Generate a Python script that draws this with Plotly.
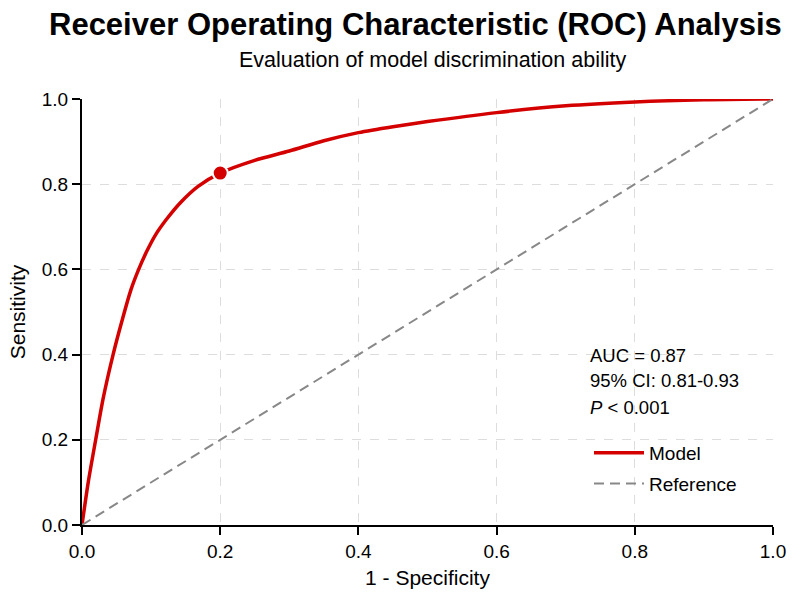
import plotly.graph_objects as go

fpr = [0.0, 0.009, 0.0198, 0.031, 0.045, 0.058, 0.071, 0.082, 0.093, 0.106, 0.122, 0.142, 0.168, 0.2, 0.25, 0.3, 0.35, 0.4, 0.45, 0.5, 0.6, 0.7, 0.8, 0.9, 1.0]
tpr = [0.0, 0.1, 0.2, 0.3, 0.4, 0.48, 0.553, 0.6, 0.64, 0.68, 0.717, 0.756, 0.795, 0.826, 0.856, 0.878, 0.902, 0.921, 0.935, 0.947, 0.968, 0.984, 0.993, 0.998, 1.0]
ref_x = [0.0, 1.0]
ref_y = [0.0, 1.0]
opt_x = [0.2]
opt_y = [0.826]
tick_vals = [0.0, 0.2, 0.4, 0.6, 0.8, 1.0]
tick_text = ["0.0", "0.2", "0.4", "0.6", "0.8", "1.0"]
stats_lines = ["AUC = 0.87", "95% CI: 0.81-0.93", "<i>P</i> < 0.001"]
title_text = "Receiver Operating Characteristic (ROC) Analysis"
subtitle_text = "Evaluation of model discrimination ability"

RED = "#d40000"
FONT = "Liberation Sans, Arial, sans-serif"

fig = go.Figure()
fig.add_trace(go.Scatter(x=fpr, y=tpr, mode="lines", name="Model", legendgroup="a",
                         line=dict(color=RED, width=3.5, shape="spline", smoothing=0.8)))
fig.add_trace(go.Scatter(x=ref_x, y=ref_y, mode="lines", name="Reference", legendgroup="b",
                         line=dict(color="#888888", width=2, dash="10px,6px")))
fig.add_trace(go.Scatter(x=opt_x, y=opt_y, mode="markers", showlegend=False,
                         marker=dict(color=RED, size=15, line=dict(color="white", width=2))))

for t, py in zip(stats_lines, [355, 380, 407]):
    fig.add_annotation(x=(588 - 82) / 691, y=(525 - py) / 426, xref="paper", yref="paper", text=t,
                       showarrow=False, xanchor="left", yanchor="middle",
                       font=dict(family=FONT, size=18.5, color="black"))

fig.add_annotation(x=(415 - 82) / 691, y=(525 - 24) / 426, xref="paper", yref="paper",
                   text="<b>" + title_text + "</b>", showarrow=False,
                   xanchor="center", yanchor="middle",
                   font=dict(family=FONT, size=31, color="black"))
fig.add_annotation(x=(432 - 82) / 691, y=(525 - 60) / 426, xref="paper", yref="paper",
                   text=subtitle_text, showarrow=False,
                   xanchor="center", yanchor="middle",
                   font=dict(family=FONT, size=21.5, color="black"))

axis_common = dict(range=[0, 1], tickvals=tick_vals, ticktext=tick_text,
                   showline=True, linecolor="black", linewidth=2,
                   ticks="outside", ticklen=8, tickwidth=2, tickcolor="black",
                   showgrid=True, gridcolor="#dddddd", griddash="dash", gridwidth=1,
                   zeroline=False, tickfont=dict(family=FONT, size=19, color="black"),
                   mirror=False)

fig.update_layout(
    width=800, height=603,
    margin=dict(l=82, r=27, t=99, b=78),
    paper_bgcolor="white", plot_bgcolor="white",
    xaxis=dict(title=dict(text="1 - Specificity", font=dict(family=FONT, size=21, color="black"), standoff=10),
               **axis_common),
    yaxis=dict(title=dict(text="Sensitivity", font=dict(family=FONT, size=21, color="black"), standoff=10),
               **axis_common),
    legend=dict(x=0.7337, y=0.052, xanchor="left", yanchor="bottom",
                bgcolor="rgba(255,255,255,0)", font=dict(family=FONT, size=19, color="black"),
                tracegroupgap=3, itemwidth=50),
)

fig.write_html("out.html")
